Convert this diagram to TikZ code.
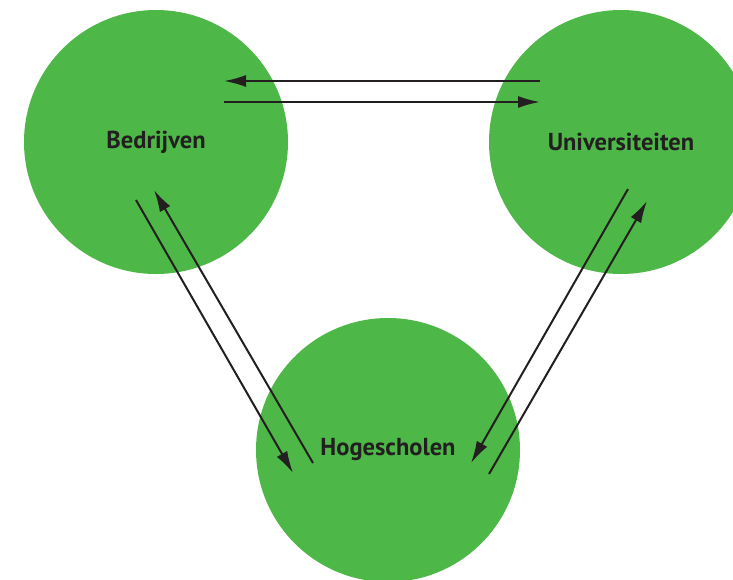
\documentclass[tikz,border=0pt]{standalone}
\usepackage{fontspec}
\setmainfont{PT Sans}
\usetikzlibrary{arrows.meta}
\definecolor{hubgreen}{HTML}{4DB848}
\definecolor{arrowblack}{HTML}{231F20}
\begin{document}
\begin{tikzpicture}[x=1pt, y=-1pt,
	hub/.style={circle, fill=hubgreen, minimum size=264pt, inner sep=0pt, font=\fontsize{24.5}{28}\selectfont\bfseries, text=arrowblack},
	flow/.style={arrowblack, line width=2pt, -{Latex[length=22pt, width=12pt]}}]
\useasboundingbox (0,0) rectangle (733,579);
\clip (0,0) rectangle (733,579);

\node[hub] (bedr) at (156,142) {Bedrijven};
\node[hub] (univ) at (621,142) {Universiteiten};
\node[hub] (hogs) at (388,450) {Hogescholen};

% end points of the flows
\coordinate (bu1) at (540,81);  \coordinate (bu2) at (224,81);
\coordinate (bu3) at (224,102); \coordinate (bu4) at (540,102);
\coordinate (bh1) at (136,200); \coordinate (bh2) at (293,473);
\coordinate (bh3) at (313,463); \coordinate (bh4) at (154,190);
\coordinate (uh1) at (628,189); \coordinate (uh2) at (471,463);
\coordinate (uh3) at (489,474); \coordinate (uh4) at (647,201);

\draw[flow] (bu1) -- (bu2);
\draw[flow] (bu3) -- (bu4);
\draw[flow] (bh1) -- (bh2);
\draw[flow] (bh3) -- (bh4);
\draw[flow] (uh1) -- (uh2);
\draw[flow] (uh3) -- (uh4);
\end{tikzpicture}
\end{document}
